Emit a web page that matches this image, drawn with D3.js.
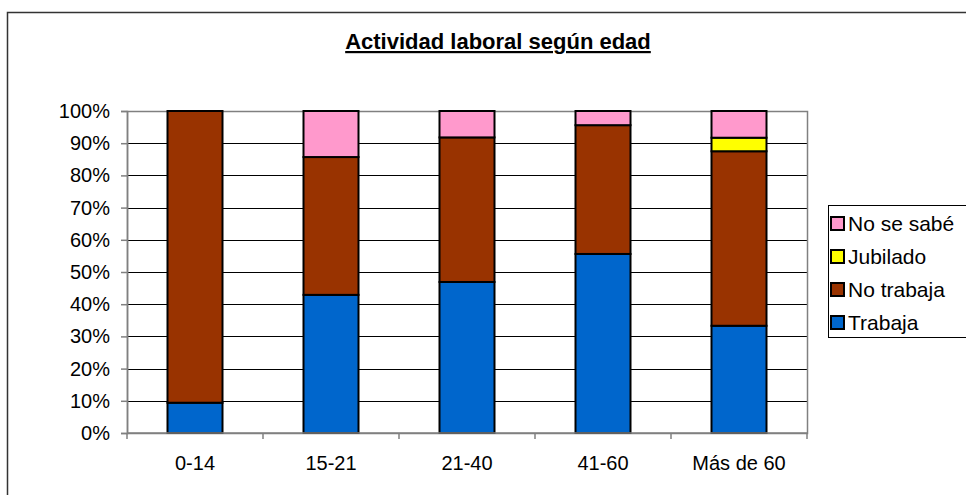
<!DOCTYPE html>
<html>
<head>
<meta charset="utf-8">
<script src="https://cdn.jsdelivr.net/npm/d3@7"></script>
<style>
  body { margin: 0; background: #fff; }
  svg { display: block; font-family: Arial, "Liberation Sans", sans-serif; }
</style>
</head>
<body>
<script>
// values (percent of each age group)
var categories = ["0-14", "15-21", "21-40", "41-60", "Más de 60"];
var seriesNames = ["Trabaja", "No trabaja", "Jubilado", "No se sabé"];
var trabaja   = [9.4, 42.9, 46.9, 55.6, 33.3];
var noTrabaja = [90.6, 42.8, 44.9, 40.0, 54.2];
var jubilado  = [0, 0, 0, 0, 4.2];
var noSeSabe  = [0, 14.3, 8.2, 4.4, 8.3];
var colors    = ["#0066cc", "#993300", "#ffff00", "#ff99cc"];
var yTicks    = [0, 10, 20, 30, 40, 50, 60, 70, 80, 90, 100];

var width = 966, height = 495;

var rows = categories.map(function(c, i) {
  return { cat: c, "Trabaja": trabaja[i], "No trabaja": noTrabaja[i],
           "Jubilado": jubilado[i], "No se sabé": noSeSabe[i] };
});

var svg = d3.select("body").append("svg")
    .attr("width", width)
    .attr("height", height);

// outer chart border (runs off the right / bottom edge)
svg.append("rect")
    .attr("x", 7.5).attr("y", 12.5)
    .attr("width", 1000).attr("height", 520)
    .attr("fill", "#fff")
    .attr("stroke", "#333")
    .attr("stroke-width", 1.5);

svg.append("text")
    .attr("x", 498).attr("y", 49)
    .attr("text-anchor", "middle")
    .attr("font-size", 22)
    .attr("font-weight", "bold")
    .attr("text-decoration", "underline")
    .text("Actividad laboral según edad");

var x = d3.scaleBand().domain(categories).range([127, 807]).padding(0);
var y = d3.scaleLinear().domain([0, 100]).range([433, 111]);
var barW = 55;

// gridlines
svg.append("g")
  .selectAll("line")
  .data(yTicks.filter(function(t) { return t > 0 && t < 100; }))
  .enter().append("line")
    .attr("x1", 127).attr("x2", 807)
    .attr("y1", function(d) { return Math.round(y(d)) + 0.5; })
    .attr("y2", function(d) { return Math.round(y(d)) + 0.5; })
    .attr("stroke", "#000")
    .attr("stroke-width", 1);

// plot area border
svg.append("rect")
    .attr("x", 127.5).attr("y", 111.5)
    .attr("width", 680).attr("height", 322)
    .attr("fill", "none")
    .attr("stroke", "#808080")
    .attr("stroke-width", 1.5);

var stack = d3.stack().keys(seriesNames);
var layers = stack(rows);

svg.append("g")
  .selectAll("g")
  .data(layers)
  .enter().append("g")
    .attr("fill", function(d, i) { return colors[i]; })
  .selectAll("rect")
  .data(function(d) { return d.filter(function(s) { return s[1] - s[0] > 0; }); })
  .enter().append("rect")
    .attr("x", function(d) { return x(d.data.cat) + (x.bandwidth() - barW) / 2; })
    .attr("y", function(d) { return y(d[1]); })
    .attr("width", barW)
    .attr("height", function(d) { return y(d[0]) - y(d[1]); })
    .attr("stroke", "#000")
    .attr("stroke-width", 2);

// y axis
var yAxis = svg.append("g")
    .attr("transform", "translate(127,0)")
    .call(d3.axisLeft(y).tickValues(yTicks).tickSize(6).tickPadding(11)
      .tickFormat(function(d) { return d + "%"; }));
yAxis.select(".domain").attr("stroke", "#808080").attr("stroke-width", 1.5);
yAxis.selectAll(".tick line").attr("stroke", "#808080").attr("stroke-width", 1.5);
yAxis.selectAll("text").attr("font-size", 20).attr("fill", "#000")
    .attr("font-family", "Arial, 'Liberation Sans', sans-serif");

// x axis: ticks sit on the category boundaries
var xAxis = svg.append("g")
    .attr("transform", "translate(0,433)");
xAxis.append("line")
    .attr("x1", 127).attr("x2", 807)
    .attr("stroke", "#808080").attr("stroke-width", 1.5);
xAxis.selectAll(".bound")
  .data(categories.concat(["end"]))
  .enter().append("line")
    .attr("class", "bound")
    .attr("x1", function(d, i) { return 127 + i * x.step(); })
    .attr("x2", function(d, i) { return 127 + i * x.step(); })
    .attr("y1", 0).attr("y2", 6)
    .attr("stroke", "#808080").attr("stroke-width", 1.5);
xAxis.selectAll("text")
  .data(categories)
  .enter().append("text")
    .attr("x", function(d) { return x(d) + x.bandwidth() / 2; })
    .attr("y", 37)
    .attr("text-anchor", "middle")
    .attr("font-size", 20)
    .text(function(d) { return d; });

// legend (top entry = last series)
var legend = svg.append("g");
legend.append("rect")
    .attr("x", 828.5).attr("y", 205.5)
    .attr("width", 200).attr("height", 132)
    .attr("fill", "#fff")
    .attr("stroke", "#000")
    .attr("stroke-width", 1);
var items = legend.selectAll(".item")
  .data(seriesNames.slice().reverse())
  .enter().append("g")
    .attr("class", "item")
    .attr("transform", function(d, i) { return "translate(831," + (223 + i * 33) + ")"; });
items.append("rect")
    .attr("x", 0).attr("y", -6)
    .attr("width", 13).attr("height", 13)
    .attr("fill", function(d) { return colors[seriesNames.indexOf(d)]; })
    .attr("stroke", "#000")
    .attr("stroke-width", 2);
items.append("text")
    .attr("x", 17).attr("y", 8)
    .attr("font-size", 21)
    .text(function(d) { return d; });
</script>
</body>
</html>
